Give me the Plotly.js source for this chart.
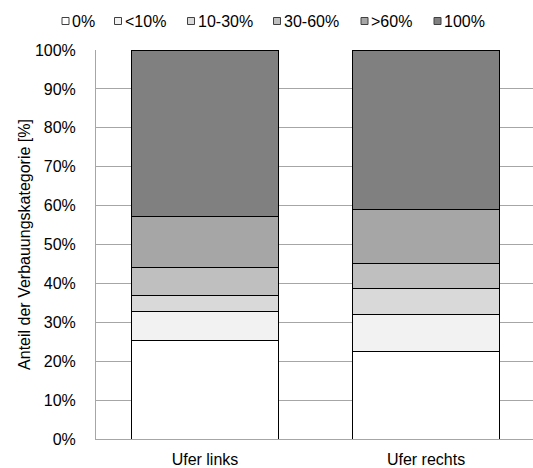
<!DOCTYPE html>
<html><head><meta charset="utf-8">
<script src="https://cdn.plot.ly/plotly-3.0.1.min.js"></script>
<style>html,body{margin:0;padding:0;overflow:hidden;background:#fff}</style>
</head><body>
<div id="chart" style="width:533px;height:468px"></div>
<script>
const categories = ["Ufer links", "Ufer rechts"];
const seriesNames = ["0%", "<10%", "10-30%", "30-60%", ">60%", "100%"];
const s0 = [25.3, 22.5];
const s1 = [7.4, 9.5];
const s2 = [4.1, 6.6];
const s3 = [7.2, 6.6];
const s4 = [13.3, 13.8];
const s5 = [42.7, 41.0];
const yTicks = [0, 10, 20, 30, 40, 50, 60, 70, 80, 90, 100];

const seriesValues = [s0, s1, s2, s3, s4, s5];
const colors = ["#FFFFFF", "#F2F2F2", "#D9D9D9", "#BFBFBF", "#A6A6A6", "#808080"];

const traces = seriesValues.map((vals, i) => ({
  type: "bar",
  name: seriesNames[i],
  x: categories,
  y: vals,
  width: 0.665,
  marker: { color: colors[i], line: { color: "#000000", width: 1 } },
  hoverinfo: "none",
  showlegend: false
}));

const font = { family: "Liberation Sans, Arial, sans-serif", size: 16, color: "#000" };

// Custom legend (Excel-style compact keys) placed in the top margin
const W = 533, H = 468, ML = 96, MR = 0, MT = 50, MB = 29;
const plotW = W - ML - MR, plotH = H - MT - MB;
const px2x = px => (px - ML) / plotW;
const py2y = py => (H - MB - py) / plotH;
const legendKeyCenters = [65.5, 118, 191, 277, 364.5, 437.5];
const keySize = 7, legendCY = 21;
const shapes = [], annotations = [];
seriesNames.forEach((name, i) => {
  const cx = legendKeyCenters[i];
  shapes.push({
    type: "rect", xref: "paper", yref: "paper",
    x0: px2x(cx - keySize / 2), x1: px2x(cx + keySize / 2),
    y0: py2y(legendCY + keySize / 2), y1: py2y(legendCY - keySize / 2),
    fillcolor: colors[i], line: { color: "#404040", width: 1 }
  });
  annotations.push({
    xref: "paper", yref: "paper",
    x: px2x(cx + keySize / 2 + 1), y: py2y(legendCY),
    xanchor: "left", yanchor: "middle", showarrow: false,
    text: name.replace("<", "&lt;").replace(">", "&gt;"), font: font
  });
});

const layout = {
  width: W, height: H,
  margin: { l: ML, r: MR, t: MT, b: MB },
  barmode: "stack",
  paper_bgcolor: "#fff", plot_bgcolor: "#fff",
  font: font,
  showlegend: false,
  shapes: shapes,
  annotations: annotations,
  xaxis: {
    type: "category",
    range: [-0.493, 1.484],
    showgrid: false, zeroline: false,
    showline: true, linecolor: "#A6A6A6", linewidth: 1,
    ticks: "", ticklabelstandoff: 6,
    tickfont: font
  },
  yaxis: {
    range: [0, 100],
    tickvals: yTicks,
    ticktext: yTicks.map(v => v + "%"),
    showgrid: true, gridcolor: "#A6A6A6", gridwidth: 1,
    zeroline: false,
    showline: true, linecolor: "#A6A6A6", linewidth: 1,
    ticks: "", ticklabelstandoff: 16,
    tickfont: font,
    title: { text: "Anteil der Verbauungskategorie [%]", font: font, standoff: 0 }
  }
};

Plotly.newPlot("chart", traces, layout, { displayModeBar: false, staticPlot: true });
</script>
</body></html>
